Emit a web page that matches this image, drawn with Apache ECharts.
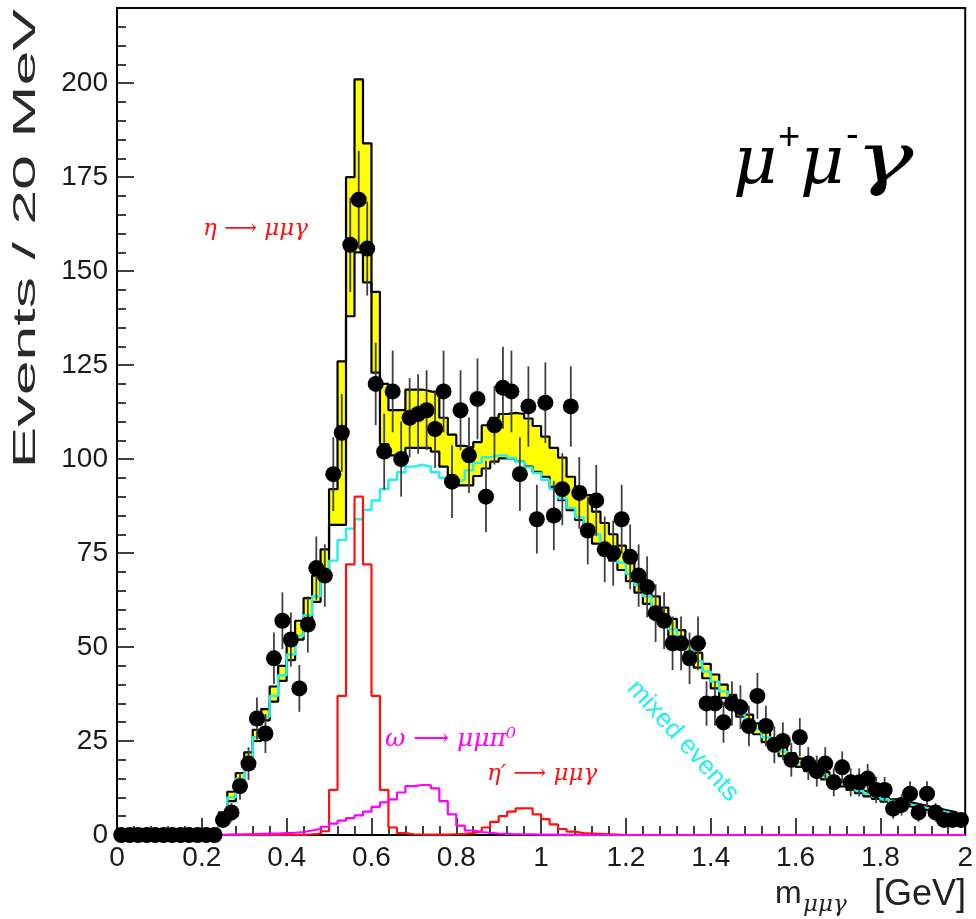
<!DOCTYPE html>
<html><head><meta charset="utf-8">
<script src="https://cdn.jsdelivr.net/npm/echarts@6/dist/echarts.min.js"></script>
<style>html,body{margin:0;padding:0;background:#fff}#main{width:976px;height:919px}</style>
</head><body><div id="main"></div>
<script>
// Histogram binning: 100 bins of 20 MeV from 0 to 2 GeV
const nBins = 100, xStart = 0, binWidth = 0.02;
const xTickStep = 0.2, yTickStep = 25, xMax = 2, yMax = 220;

// Data points (events per bin)
const dataCounts = [0,0,0,0,0,0,0,0,0,0,0,0,
  4,6,13,19,31,27,47,57,52,39,56,71,69,
  96,107,157,169,156,120,102,118,100,111,
  112,113,108,118,94,113,101,116,90,109,
  119,118,96,114,84,115,85,92,114,91,
  81,89,76,75,84,74,69,66,59,57,
  51,51,47,51,35,35,30,35,34,29,
  37,29,24,25,20,26,19,17,19,14,
  18,14,14,15,12,12,7,8,11,6,
  11,6,4,4,4];

// Mixed-events background (cyan)
const mixedEvents = [0,0,0,0,0,0,0,0,0,0,0,0,
  4.5,10,15,20.5,26,31.5,37,42.5,48,53,58.5,63.5,69,
  73,78.5,81.5,84,86.5,89,92,94.5,96.5,98,
  98.5,98,96.5,95,94,94.5,97,99,100.5,101,
  101,100.3,99.3,97.8,96.3,94.5,92,89.5,87,84.5,
  82,80,77.5,75,72.5,69.5,66.5,63.5,60.5,57.5,
  54.7,52,49.2,46.3,43.5,40.8,38.2,35.6,33,30.5,
  28.2,26,24,22.2,20.6,19.2,18,16.8,15.7,14.7,
  13.7,12.7,11.8,11,10.2,9.5,8.9,8.4,7.9,7.4,
  7,6.5,6,5.5,5];

// eta -> mu mu gamma and eta' -> mu mu gamma (red)
const etaDecays = [0,0,0,0,0,0,0,0,0,0,0,0,0,0,0,0,0,0,0,0,0,0,
  0.2,0.4,1,
  12,37,72,90,72,37,12,2,0.5,0.2,
  0.1,0.1,0.1,0.1,0.2,0.3,0.5,1,2,3.5,
  5,6.2,7.1,7.1,5.5,4.2,2.8,1.6,0.9,0.5,
  0.4,0.3,0.2,0.1,0,0,0,0,0,0,
  0,0,0,0,0,0,0,0,0,0,0,0,0,0,0,0,0,0,0,0,0,0,0,0,0,0,0,0,0,0,0,0,0,0,0];

// omega -> mu mu pi0 (magenta)
const omegaDecay = [0,0,0,0,0,0,0,0,0,0,0,0,
  0.1,0.15,0.2,0.25,0.3,0.35,0.4,0.5,0.6,0.8,1.2,1.6,2.2,
  3,3.8,4.5,5.2,6.2,7.5,8.7,9.5,11.3,13,
  13.3,13.3,12.4,9,5.5,2.5,1.2,0.8,0.6,0.4,
  0.3,0.2,0.2,0.15,0.1,0.1,0.05,0.05,0,0,
  0,0,0,0,0,0,0,0,0,0,0,0,0,0,0,0,0,0,0,0,0,0,0,0,0,0,0,0,0,0,0,0,0,0,0,0,0,0,0,0,0,0,0,0,0];

// Total model uncertainty band (yellow): lower and upper edges
const bandLow = [0,0,0,0,0,0,0,0,0,0,0,0,
  3.5,9,14,19.5,25,30.5,35.5,41,46.5,52,57.5,62,68,
  82.5,82.5,138,155,147,123,104,101,100,103,
  103,103,102,98,95.5,93,93,95.5,97.5,99.3,
  100.2,100.2,99.3,98,96.6,95.3,92.6,89.1,86.4,83.8,
  80.2,77.5,75,73,70.5,67.5,64.5,61.5,58.5,55.5,
  52.8,50,47.3,44.5,41.7,39,36.5,34,31.5,29,
  26.8,24.7,22.7,21,19.5,18.1,17,15.8,14.8,13.8,
  12.9,12,11.1,10.3,9.6,8.9,8.3,7.9,7.4,6.9,
  6.5,6.1,5.6,5.1,4.6];
const bandHigh = [0,0,0,0,0,0,0,0,0,0,0,0,
  6,11.5,16.5,22,28,33.5,39.5,45,51.5,57,63,69,76,
  92,126,175,201,184,144.5,120,113,113,118.5,
  118.5,118,117.5,111,106.5,103.5,103,104.5,109,111,
  112,112.3,112,110.8,108.8,106,103,100.4,95.3,92.6,
  90.4,86,83,80,77,73,70,66.5,63.5,60.5,
  57.5,54.5,51.5,48.5,45.5,42.7,40,37.3,34.6,32,
  29.7,27.4,25.3,23.5,21.8,20.3,19,17.8,16.7,15.6,
  14.6,13.5,12.6,11.7,10.9,10.1,9.5,9,8.5,8,
  7.5,7,6.5,6,5.4];

// ---- build library inputs ----
const edges = [];
for (let i = 0; i <= nBins; i++) edges.push(+(xStart + i * binWidth).toFixed(4));
const centers = edges.slice(0, nBins).map((e, i) => +((e + edges[i + 1]) / 2).toFixed(4));
function steps(vals) {
  const pts = vals.map((v, i) => [edges[i], v]);
  pts.push([edges[nBins], vals[nBins - 1]]);
  return pts;
}
const bandRects = bandLow.map((lo, i) => [edges[i], edges[i + 1], lo, bandHigh[i]]).filter(r => r[3] > r[2]);
const errBars = dataCounts.map((v, i) => [centers[i], v - Math.sqrt(v), v + Math.sqrt(v)]).filter(r => r[2] > r[1]);
const points = dataCounts.map((v, i) => [centers[i], v]);

const chart = echarts.init(document.getElementById('main'), null, {renderer: 'canvas'});
const labelFont = 'Liberation Sans';
const stepLine = (name, vals, color, width, z) => ({
  type: 'line', name, data: steps(vals), step: 'end', symbol: 'none', z,
  clip: false, silent: true, lineStyle: {color, width}, animation: false
});
const txt = (x, y, text, font, fill, align, valign, extra) => Object.assign({
  type: 'text', x, y, z: 10, silent: true,
  style: {text, x: 0, y: 0, font, fill, textAlign: align, textVerticalAlign: valign, align, verticalAlign: valign}
}, extra || {});
const greek = '"DejaVu Serif", "Liberation Serif"';

chart.setOption({
  animation: false,
  backgroundColor: '#fff',
  grid: {left: 117, right: 10, top: 8, bottom: 84, show: true, borderColor: '#000', borderWidth: 2, backgroundColor: 'transparent'},
  xAxis: {
    type: 'value', min: xStart, max: xMax, interval: xTickStep,
    axisLine: {onZero: false, lineStyle: {color: '#000', width: 2}},
    axisTick: {inside: true, length: 17, lineStyle: {color: '#000', width: 1.5}},
    minorTick: {show: true, splitNumber: 5, length: 9, lineStyle: {color: '#000', width: 1.5}},
    splitLine: {show: false}, minorSplitLine: {show: false},
    axisLabel: {fontSize: 28, fontFamily: labelFont, color: '#1a1a1a', margin: 9}
  },
  yAxis: {
    type: 'value', min: 0, max: yMax, interval: yTickStep,
    axisLine: {onZero: false, lineStyle: {color: '#000', width: 2}},
    axisTick: {inside: true, length: 17, lineStyle: {color: '#000', width: 1.5}},
    minorTick: {show: true, splitNumber: 5, length: 9, lineStyle: {color: '#000', width: 1.5}},
    splitLine: {show: false}, minorSplitLine: {show: false},
    axisLabel: {fontSize: 28, fontFamily: labelFont, color: '#1a1a1a', margin: 9, showMaxLabel: false}
  },
  series: [
    {
      type: 'custom', name: 'band', z: 1, silent: true, clip: false,
      encode: {x: [0, 1], y: [2, 3]},
      data: bandRects,
      renderItem: (params, api) => {
        const a = api.coord([api.value(0), api.value(3)]);
        const b = api.coord([api.value(1), api.value(2)]);
        return {type: 'rect', shape: {x: a[0], y: a[1], width: b[0] - a[0] + 0.6, height: b[1] - a[1]},
          style: {fill: '#ffff00'}};
      }
    },
    stepLine('bandHigh', bandHigh, '#000', 2.2, 2),
    stepLine('bandLow', bandLow, '#000', 2.2, 2),
    stepLine('mixed', mixedEvents, '#1ff0f0', 2.4, 3),
    stepLine('eta', etaDecays, '#ff1010', 2.2, 4),
    stepLine('omega', omegaDecay, '#ff00ff', 2.2, 5),
    {
      type: 'custom', name: 'errors', z: 6, silent: true, clip: false,
      encode: {x: 0, y: [1, 2]},
      data: errBars,
      renderItem: (params, api) => {
        const a = api.coord([api.value(0), api.value(2)]);
        const b = api.coord([api.value(0), api.value(1)]);
        return {type: 'line', shape: {x1: a[0], y1: a[1], x2: b[0], y2: b[1]},
          style: {stroke: '#404040', lineWidth: 1.8}};
      }
    },
    {
      type: 'scatter', name: 'data', z: 7, silent: true, clip: false,
      data: points, symbol: 'circle', symbolSize: 16,
      itemStyle: {color: '#000', opacity: 1}
    }
  ],
  graphic: [
    txt(26, 9, 'Events / 20 MeV', '31px "Liberation Sans"', '#2a2a2a', 'right', 'middle', {rotation: Math.PI / 2, scaleX: 2.02}),
    txt(775, 910, 'm', '32px "Liberation Sans"', '#222', 'left', 'bottom'),
    txt(803, 917, 'μμγ', 'italic 23px ' + greek, '#222', 'left', 'bottom'),
    txt(966, 913, '[GeV]', '36px "Liberation Sans"', '#222', 'right', 'bottom'),
    txt(203, 229, 'η ⟶ μμγ', 'italic 23px ' + greek, '#ff1010', 'left', 'middle'),
    txt(385, 739, 'ω ⟶ μμπ⁰', 'italic 25px ' + greek, '#ff00ff', 'left', 'middle'),
    txt(487, 774, 'η′ ⟶ μμγ', 'italic 23px ' + greek, '#ff1010', 'left', 'middle'),
    txt(683, 741, 'mixed events', '26px "Liberation Sans"', '#1ff0f0', 'center', 'middle', {rotation: -0.835}),
    txt(733, 165, 'μ', 'italic 68px ' + greek, '#000', 'left', 'middle'),
    txt(778, 139, '+', '38px "Liberation Sans"', '#000', 'left', 'middle'),
    txt(800, 165, 'μ', 'italic 68px ' + greek, '#000', 'left', 'middle'),
    txt(846, 137, '-', '38px "Liberation Sans"', '#000', 'left', 'middle'),
    txt(855, 164, 'γ', 'italic 70px ' + greek, '#000', 'left', 'middle', {scaleX: 1.4})
  ]
});
</script></body></html>
